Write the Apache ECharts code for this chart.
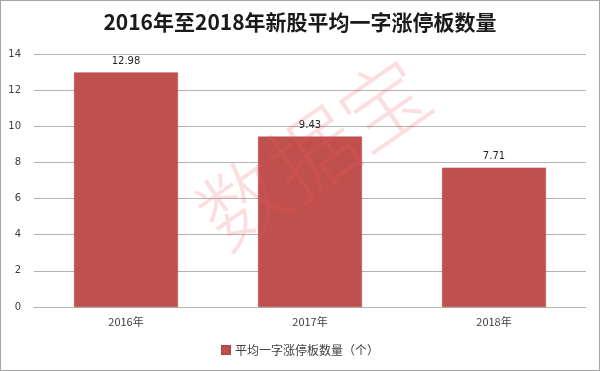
<!DOCTYPE html>
<html><head><meta charset="utf-8">
<script src="https://cdn.jsdelivr.net/npm/echarts@6/dist/echarts.min.js"></script>
<style>html,body{margin:0;padding:0;background:#fff}#c{width:600px;height:371px;box-sizing:border-box;border:1px solid #a6a6a6}</style>
</head><body><div id="c"></div>
<script>
const categories = ['2016年','2017年','2018年'];
const values = [12.98, 9.43, 7.71];
const seriesName = '平均一字涨停板数量（个）';
const titleText = '2016年至2018年新股平均一字涨停板数量';
const chart = echarts.init(document.getElementById('c'));
chart.setOption({
  animation:false,
  title:{text:titleText,left:'center',top:6,textStyle:{fontFamily:'Noto Sans CJK SC',fontWeight:'bold',fontSize:21,color:'#1a1a1a'}},
  grid:{left:33,right:13,top:53,bottom:63},
  legend:{bottom:9,left:'center',itemWidth:8,itemHeight:8,icon:'rect',textStyle:{fontFamily:'Noto Sans CJK SC',fontSize:12,color:'#404040'},data:[seriesName]},
  xAxis:{type:'category',data:categories,axisTick:{show:false},axisLine:{lineStyle:{color:'#b3b3b3'}},axisLabel:{fontFamily:'Noto Sans CJK SC',fontSize:11,color:'#404040',margin:9}},
  yAxis:{type:'value',min:0,max:14,interval:2,axisLine:{show:false},axisTick:{show:false},splitLine:{lineStyle:{color:'#b3b3b3',width:1}},axisLabel:{fontFamily:'Verdana, DejaVu Sans',fontSize:10,color:'#404040',margin:13}},
  series:[{name:seriesName,type:'bar',data:values,barWidth:'56.5%',itemStyle:{color:'#c0504d',borderColor:'#b24a47',borderWidth:0.5},label:{show:true,position:'top',fontFamily:'Verdana, DejaVu Sans',fontSize:10,color:'#262626',distance:6}}],
  graphic:[{type:'text',z:100,rotation:Math.PI*35/180,position:[312,152],style:{text:'数据宝',font:'300 86px "Noto Sans CJK SC"',fill:'rgba(240,90,100,0.2)',align:'center',verticalAlign:'middle'}}]
});
</script></body></html>
